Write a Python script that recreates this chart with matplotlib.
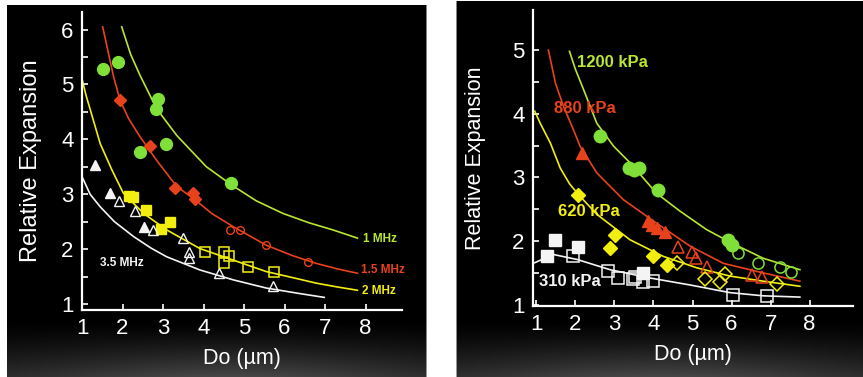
import numpy as np
import matplotlib
matplotlib.use('Agg')
import matplotlib.pyplot as plt

plt.rcParams['font.family'] = ['Liberation Sans Narrow', 'Liberation Sans', 'DejaVu Sans']

# ---------------- left panel: frequency ----------------
# fitted curves
f1_x = [1.98, 2.2, 2.43, 2.84, 3.34, 4.07, 4.69, 5.3, 5.96, 6.6, 7.19, 7.8]
f1_y = [6.05, 5.55, 5.17, 4.56, 4.07, 3.50, 3.17, 2.88, 2.65, 2.48, 2.35, 2.2]
f15_x = [1.51, 1.78, 1.94, 2.15, 2.43, 2.84, 3.34, 3.79, 4.2, 4.73, 5.55, 6.2, 6.78, 7.3, 7.8]
f15_y = [6.05, 5.14, 4.71, 4.38, 4.05, 3.62, 3.14, 2.9, 2.65, 2.41, 2.07, 1.88, 1.74, 1.64, 1.56]
f2_x = [1.0, 1.1, 1.2, 1.45, 1.74, 2.02, 2.52, 3.09, 3.91, 4.73, 5.55, 6.2, 6.78, 7.3, 7.8]
f2_y = [5.1, 4.8, 4.55, 3.92, 3.44, 3.02, 2.65, 2.35, 2.01, 1.8, 1.59, 1.48, 1.38, 1.31, 1.25]
f35_x = [1.0, 1.2, 1.45, 1.8, 2.27, 2.7, 3.09, 3.91, 4.73, 5.55, 6.37, 6.98]
f35_y = [3.32, 3.0, 2.77, 2.5, 2.23, 2.02, 1.86, 1.62, 1.44, 1.29, 1.19, 1.12]

# measured points
g1_x = [1.53, 1.90, 2.88, 2.83, 2.42, 3.07, 4.67]
g1_y = [5.29, 5.40, 4.73, 4.56, 3.76, 3.92, 3.20]
r15_fill_x = [1.93, 2.68, 3.30, 3.75, 3.79]
r15_fill_y = [4.71, 3.88, 3.11, 3.02, 2.92]
r15_open_x = [4.66, 4.89, 5.55, 6.57]
r15_open_y = [2.35, 2.35, 2.07, 1.76]
y2_fill_x = [2.15, 2.27, 2.57, 2.95, 3.17]
y2_fill_y = [2.97, 2.95, 2.71, 2.37, 2.50]
y2_open_x = [4.03, 4.50, 4.62, 4.50, 5.10, 5.73]
y2_open_y = [1.95, 1.95, 1.87, 1.74, 1.68, 1.59]
w35_fill_x = [1.33, 1.68, 2.53]
w35_fill_y = [3.53, 3.03, 2.41]
w35_open_x = [1.92, 2.31, 2.76, 3.50, 3.64, 3.64, 4.38, 5.72]
w35_open_y = [2.87, 2.69, 2.35, 2.21, 1.95, 1.83, 1.56, 1.33]

# ---------------- right panel: pressure ----------------
p1200_x = [1.85, 2.0, 2.21, 2.55, 2.98, 3.40, 4.08, 4.68, 5.36, 6.0, 6.81, 7.75]
p1200_y = [4.98, 4.70, 4.38, 3.85, 3.49, 3.23, 2.75, 2.47, 2.18, 1.97, 1.73, 1.55]
p880_x = [1.31, 1.49, 1.70, 1.95, 2.12, 2.55, 3.23, 4.08, 4.94, 5.79, 6.81, 7.75]
p880_y = [5.0, 4.48, 4.11, 3.75, 3.49, 3.07, 2.65, 2.28, 1.92, 1.65, 1.50, 1.37]
p620_x = [0.96, 1.1, 1.36, 1.61, 1.85, 2.08, 2.55, 3.40, 4.25, 5.11, 5.96, 6.81, 7.75]
p620_y = [4.04, 3.85, 3.54, 3.15, 2.90, 2.73, 2.42, 2.02, 1.76, 1.58, 1.45, 1.37, 1.29]
p310_x = [0.96, 1.43, 2.05, 2.89, 3.91, 4.94, 5.96, 6.81, 7.75]
p310_y = [1.66, 1.79, 1.71, 1.55, 1.42, 1.31, 1.19, 1.14, 1.12]

g1200_fill_x = [2.64, 3.38, 3.50, 3.63, 4.11, 5.91, 6.0]
g1200_fill_y = [3.65, 3.15, 3.12, 3.15, 2.80, 2.02, 1.94]
g1200_open_x = [6.17, 6.68, 7.24, 7.53]
g1200_open_y = [1.81, 1.65, 1.60, 1.52]
r880_fill_x = [2.17, 3.85, 3.95, 4.10, 4.30]
r880_fill_y = [3.38, 2.32, 2.25, 2.20, 2.15]
r880_open_x = [4.63, 4.99, 5.09, 5.37, 6.52, 6.78]
r880_open_y = [1.91, 1.83, 1.74, 1.60, 1.47, 1.44]
y620_fill_x = [2.08, 3.02, 2.89, 3.98, 4.34]
y620_fill_y = [2.73, 2.10, 1.89, 1.77, 1.63]
y620_open_x = [4.60, 5.32, 5.70, 5.83, 7.16]
y620_open_y = [1.66, 1.41, 1.36, 1.49, 1.33]
w310_fill_x = [1.28, 1.49, 2.07, 3.73]
w310_fill_y = [1.77, 2.02, 1.90, 1.50]
w310_open_x = [1.95, 2.84, 3.10, 3.48, 3.53, 3.73, 3.99, 6.04, 6.91]
w310_open_y = [1.77, 1.53, 1.42, 1.41, 1.44, 1.35, 1.38, 1.16, 1.14]

GREEN = '#7fe03a'
LIME = '#b8e632'
RED = '#e8421c'
YELLOW = '#f2ee10'
WHITE = '#f4f4f4'

W, H = 863, 377
fig = plt.figure(figsize=(W / 100, H / 100), dpi=100)

# background: white page, two black panels with a grey haze at the bottom
bg = np.ones((H, W, 3))
rows = np.arange(H)[:, None]
cols = np.arange(W)[None, :]
haze = np.clip((rows - 320) / 57.0, 0, 1) ** 1.3
for (c0, c1, r0, cx) in [(7, 426, 5, 230), (456, 863, 1, 660)]:
    prof = 0.55 + 0.45 * np.exp(-((cols - cx) / 180.0) ** 2)
    val = 0.28 * haze * prof
    mask = (rows >= r0) & (cols >= c0) & (cols < c1)
    for k in range(3):
        bg[..., k] = np.where(mask, val, bg[..., k])
axbg = fig.add_axes([0, 0, 1, 1])
axbg.imshow(bg, aspect='auto', interpolation='bilinear')
axbg.axis('off')


def style(ax, xlim, ylim, yticks):
    ax.set_facecolor('none')
    ax.set_xlim(*xlim)
    ax.set_ylim(*ylim)
    for s in ['top', 'right']:
        ax.spines[s].set_visible(False)
    for s in ['left', 'bottom']:
        ax.spines[s].set_color('white')
        ax.spines[s].set_linewidth(1.6)
    ax.set_xticks(range(1, 9))
    ax.set_yticks(yticks)
    ax.set_yticks(np.arange(yticks[0] + 0.5, yticks[-1], 1.0), minor=True)
    ax.tick_params(axis='both', which='both', direction='in', colors='white', width=1.2, labelsize=16)
    ax.tick_params(axis='both', which='major', length=4)
    ax.tick_params(axis='y', which='minor', length=4)
    ax.tick_params(axis='x', pad=6)
    ax.tick_params(axis='y', pad=6)


lw = 1.2

# ---- left panel ----
ax1 = fig.add_axes([82 / W, (H - 310) / H, 320 / W, 298 / H])
style(ax1, (1, 8.9), (0.89, 6.32), [1, 2, 3, 4, 5, 6])
ax1.plot(f1_x, f1_y, color=LIME, lw=lw)
ax1.plot(f15_x, f15_y, color=RED, lw=lw)
ax1.plot(f2_x, f2_y, color=YELLOW, lw=lw)
ax1.plot(f35_x, f35_y, color=WHITE, lw=lw)
ax1.plot(g1_x, g1_y, 'o', color=GREEN, ms=8.5, ls='none')
ax1.plot(r15_fill_x, r15_fill_y, 'D', color=RED, ms=6.5, ls='none')
ax1.plot(r15_open_x, r15_open_y, 'o', mfc='none', mec=RED, ms=5.5, mew=1.0, ls='none')
ax1.plot(y2_fill_x, y2_fill_y, 's', color=YELLOW, ms=7, ls='none')
ax1.plot(y2_open_x, y2_open_y, 's', mfc='none', mec=YELLOW, ms=6.5, mew=1.1, ls='none')
ax1.plot(w35_fill_x, w35_fill_y, '^', color=WHITE, ms=7, ls='none')
ax1.plot(w35_open_x, w35_open_y, '^', mfc='none', mec=WHITE, ms=6.5, mew=1.0, ls='none')
lab = dict(fontsize=8.5, fontweight='bold', va='center', ha='left')
ax1.text(7.93, 2.18, '1 MHz', color=LIME, **lab)
ax1.text(7.89, 1.62, '1.5 MHz', color=RED, **lab)
ax1.text(7.91, 1.24, '2 MHz', color=YELLOW, **lab)
ax1.text(1.45, 1.74, '3.5 MHz', color=WHITE, **lab)
ax1.set_ylabel('Relative Expansion', color='white', fontsize=17, labelpad=14)
ax1.set_xlabel('Do (µm)', color='white', fontsize=15.5, labelpad=6)

# ---- right panel ----
ax2 = fig.add_axes([533 / W, (H - 306) / H, 320 / W, 296 / H])
style(ax2, (0.915, 9.11), (0.98, 5.63), [1, 2, 3, 4, 5])
ax2.plot(p1200_x, p1200_y, color=LIME, lw=lw)
ax2.plot(p880_x, p880_y, color=RED, lw=lw)
ax2.plot(p620_x, p620_y, color=YELLOW, lw=lw)
ax2.plot(p310_x, p310_y, color=WHITE, lw=lw)
ax2.plot(g1200_fill_x, g1200_fill_y, 'o', color=GREEN, ms=9, ls='none')
ax2.plot(g1200_open_x, g1200_open_y, 'o', mfc='none', mec=GREEN, ms=8, mew=1.1, ls='none')
ax2.plot(r880_fill_x, r880_fill_y, '^', color=RED, ms=8.5, ls='none')
ax2.plot(r880_open_x, r880_open_y, '^', mfc='none', mec=RED, ms=8, mew=1.1, ls='none')
ax2.plot(y620_fill_x, y620_fill_y, 'D', color=YELLOW, ms=7, ls='none')
ax2.plot(y620_open_x, y620_open_y, 'D', mfc='none', mec=YELLOW, ms=7, mew=1.1, ls='none')
ax2.plot(w310_fill_x, w310_fill_y, 's', color=WHITE, ms=8.5, ls='none')
ax2.plot(w310_open_x, w310_open_y, 's', mfc='none', mec=WHITE, ms=8, mew=1.1, ls='none')
lab2 = dict(fontsize=12, fontweight='bold', va='center', ha='left')
ax2.text(2.04, 4.80, '1200 kPa', color=LIME, **lab2)
ax2.text(1.44, 4.09, '880 kPa', color=RED, **lab2)
ax2.text(1.55, 2.47, '620 kPa', color=YELLOW, **lab2)
ax2.text(1.06, 1.37, '310 kPa', color=WHITE, **lab2)
ax2.set_ylabel('Relative Expansion', color='white', fontsize=15.5, labelpad=19)
ax2.set_xlabel('Do (µm)', color='white', fontsize=15.5, labelpad=6)

fig.savefig('out.png', dpi=100)
